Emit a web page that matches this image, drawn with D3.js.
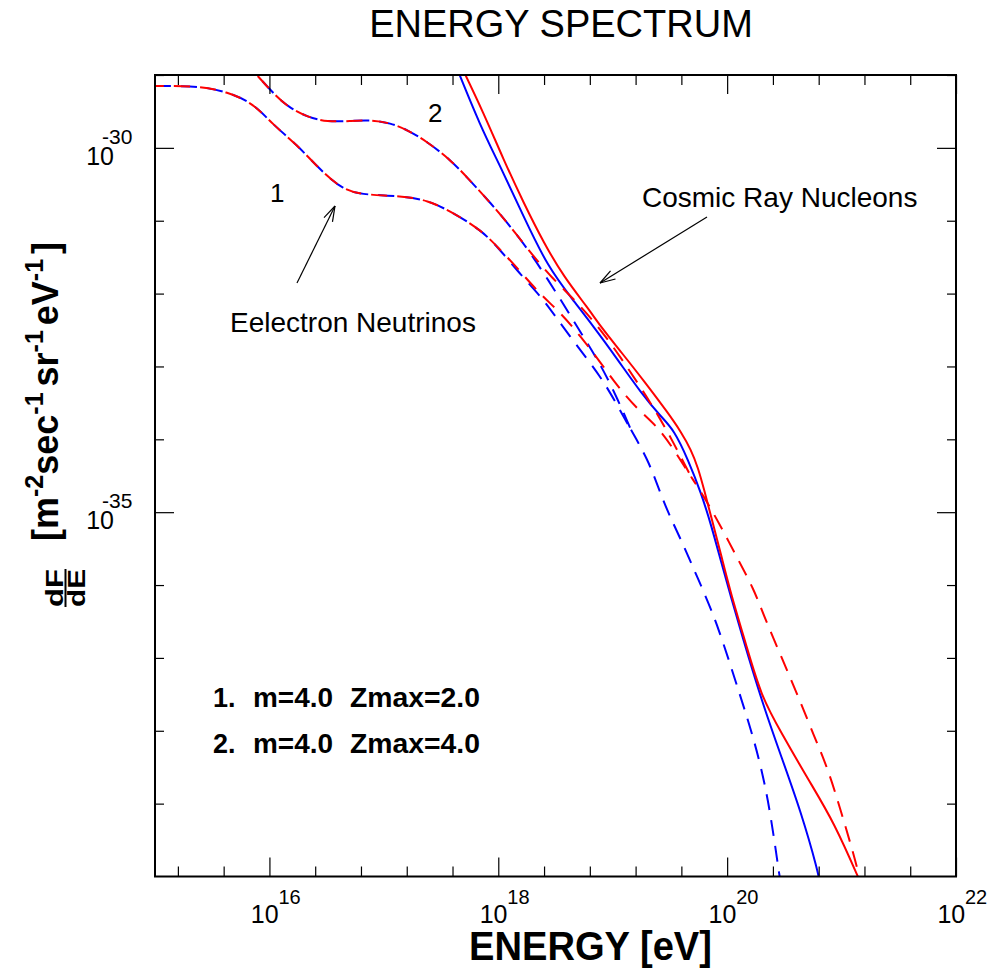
<!DOCTYPE html>
<html><head><meta charset="utf-8">
<script src="https://cdn.jsdelivr.net/npm/d3@7"></script>
<style>
body{margin:0;background:#fff}
svg{font-family:"Liberation Sans",Arial,Helvetica,sans-serif}
</style>
</head><body>
<svg id="chart" width="995" height="969"></svg>
<script>
// ---------- DATA (log10 values) ----------
const xDomainExp = [15, 22];
const yDomainExp = [-40, -29];
const xMajorTicks = [16, 18, 20, 22];
const xMinorTicks = [15.2, 15.6, 16.4, 16.8, 17.2, 17.6, 18.4, 18.8, 19.2, 19.6, 20.4, 20.8, 21.2, 21.6];
const yMajorTicks = [-30, -35];
const yMinorTicks = [-29, -31, -32, -33, -34, -36, -37, -38, -39];
const xTickLabels = ["16", "18", "20", "22"];
const yTickLabels = ["-30", "-35"];

// Electron neutrinos, curve 1 (m=4.0, Zmax=2.0), low-energy part (both models)
const nu1LowLogE = [15.00, 15.394, 15.630, 15.858, 16.033, 16.243, 16.419, 16.646, 16.856, 17.145, 17.382, 17.609, 17.846, 17.995];
const nu1LowLogF = [-29.151, -29.151, -29.233, -29.384, -29.686, -29.960, -30.262, -30.591, -30.646, -30.660, -30.715, -30.893, -31.126, -31.359];
// Electron neutrinos, curve 2 (m=4.0, Zmax=4.0), low-energy part (both models)
const nu2LowLogE = [15.788, 16.068, 16.182, 16.331, 16.506, 16.708, 16.883, 17.058, 17.207, 17.382, 17.583, 17.732, 17.933, 18.109, 18.284];
const nu2LowLogF = [-28.82, -29.316, -29.453, -29.576, -29.645, -29.631, -29.617, -29.658, -29.754, -29.919, -30.166, -30.413, -30.756, -31.085, -31.442];

// blue model: branches until they merge, then common tail
const nu1BlueMidLogE = [18.196, 18.398, 18.520, 18.695, 18.897, 19.028, 19.160];
const nu1BlueMidLogF = [-31.743, -32.086, -32.361, -32.731, -33.143, -33.499, -33.870];
const nu2BlueMidLogE = [18.547, 18.722, 18.897, 19.046, 19.160];
const nu2BlueMidLogF = [-32.086, -32.539, -32.978, -33.458, -33.870];
const blueTailLogE = [19.160, 19.308, 19.396, 19.484, 19.597, 19.711, 19.799, 19.922, 20.097, 20.237, 20.359, 20.456, 20.47];
const blueTailLogF = [-33.870, -34.281, -34.651, -35.008, -35.378, -35.790, -36.105, -36.572, -37.436, -38.122, -38.904, -39.987, -40.1];

// red model
const nu1RedMidLogE = [18.196, 18.371, 18.547, 18.722, 18.897, 19.045, 19.221, 19.396, 19.536, 19.685];
const nu1RedMidLogF = [-31.702, -32.018, -32.265, -32.594, -32.951, -33.280, -33.595, -33.829, -34.144, -34.514];
const nu2RedMidLogE = [18.459, 18.695, 18.897, 19.072, 19.247, 19.422, 19.554, 19.685];
const nu2RedMidLogF = [-31.771, -32.127, -32.498, -32.882, -33.293, -33.732, -34.116, -34.514];
const redTailLogE = [19.685, 19.799, 19.947, 20.096, 20.236, 20.324, 20.473, 20.622, 20.762, 20.884, 20.998, 21.112, 21.17];
const redTailLogF = [-34.514, -34.789, -35.200, -35.653, -36.064, -36.435, -36.984, -37.532, -38.081, -38.534, -39.123, -39.727, -40.1];

// Cosmic ray nucleons
const crBlueLogE = [17.627, 17.846, 18.021, 18.222, 18.433, 18.651, 18.835, 19.045, 19.247, 19.422, 19.536, 19.659, 19.772, 19.860, 19.947, 20.035, 20.123, 20.298, 20.473, 20.648, 20.797, 20.81];
const crBlueLogF = [-28.863, -29.713, -30.262, -30.948, -31.634, -32.086, -32.457, -32.909, -33.362, -33.691, -33.870, -34.281, -34.734, -35.173, -35.680, -36.174, -36.654, -37.573, -38.355, -39.123, -39.947, -40.1];
const crRedLogE = [17.671, 17.872, 18.047, 18.222, 18.398, 18.573, 18.783, 18.897, 19.072, 19.273, 19.483, 19.597, 19.685, 19.746, 19.799, 19.860, 19.947, 20.035, 20.166, 20.298, 20.473, 20.709, 20.937, 21.17];
const crRedLogF = [-28.863, -29.521, -30.166, -30.756, -31.305, -31.771, -32.196, -32.457, -32.799, -33.198, -33.637, -33.898, -34.144, -34.391, -34.692, -35.063, -35.584, -36.133, -36.819, -37.532, -38.026, -38.671, -39.261, -40.1];

// ---------- SCALES ----------
const svg = d3.select("#chart");
const L = 155, R = 956, T = 75, B = 876.5;
const p = e => Math.pow(10, e);
const x = d3.scaleLog().domain(xDomainExp.map(p)).range([L, R]);
const y = d3.scaleLog().domain(yDomainExp.map(p)).range([B, T]);

function zipLog(es, fs) { return es.map((e, i) => [p(e), p(fs[i])]); }

const DASH = "16,10";
const BLUE = "#0000ff", RED = "#ff0000";
const series = [
  {pts: zipLog(nu1LowLogE.concat(nu1BlueMidLogE), nu1LowLogF.concat(nu1BlueMidLogF)), color: BLUE, dash: DASH, off: 0},
  {pts: zipLog(nu2LowLogE.concat(nu2BlueMidLogE), nu2LowLogF.concat(nu2BlueMidLogF)), color: BLUE, dash: DASH, off: 0},
  {pts: zipLog(blueTailLogE, blueTailLogF), color: BLUE, dash: DASH, off: 0},
  {pts: zipLog(crBlueLogE, crBlueLogF), color: BLUE, dash: null},
  {pts: zipLog(nu1LowLogE.concat(nu1RedMidLogE), nu1LowLogF.concat(nu1RedMidLogF)), color: RED, dash: DASH, off: 7},
  {pts: zipLog(nu2LowLogE.concat(nu2RedMidLogE), nu2LowLogF.concat(nu2RedMidLogF)), color: RED, dash: DASH, off: 7},
  {pts: zipLog(redTailLogE, redTailLogF), color: RED, dash: DASH, off: 7},
  {pts: zipLog(crRedLogE, crRedLogF), color: RED, dash: null}
];

svg.append("defs").append("clipPath").attr("id", "clip")
  .append("rect").attr("x", L).attr("y", T).attr("width", R - L).attr("height", B - T);

const line = d3.line().x(d => x(d[0])).y(d => y(d[1])).curve(d3.curveBasis);
const g = svg.append("g").attr("clip-path", "url(#clip)");
series.forEach(s => {
  g.append("path").attr("d", line(s.pts)).attr("fill", "none")
    .attr("stroke", s.color).attr("stroke-width", 2)
    .attr("stroke-dasharray", s.dash).attr("stroke-dashoffset", s.off || 0);
});

// ---------- AXES ----------
function addAxis(axisFn, scale, vals, size, transform) {
  svg.append("g").attr("transform", transform)
    .call(axisFn(scale).tickValues(vals.map(p)).tickSize(size).tickFormat(""))
    .call(a => a.select(".domain").remove())
    .call(a => a.selectAll("line").attr("stroke", "#000").attr("stroke-width", 1.2));
}
addAxis(d3.axisTop, x, xMajorTicks, 19, `translate(0,${B})`);
addAxis(d3.axisTop, x, xMinorTicks, 10, `translate(0,${B})`);
addAxis(d3.axisBottom, x, xMajorTicks, 19, `translate(0,${T})`);
addAxis(d3.axisBottom, x, xMinorTicks, 10, `translate(0,${T})`);
addAxis(d3.axisRight, y, yMajorTicks, 19, `translate(${L},0)`);
addAxis(d3.axisRight, y, yMinorTicks, 9, `translate(${L},0)`);
addAxis(d3.axisLeft, y, yMajorTicks, 19, `translate(${R},0)`);
addAxis(d3.axisLeft, y, yMinorTicks, 9, `translate(${R},0)`);

svg.append("rect").attr("x", L).attr("y", T).attr("width", R - L).attr("height", B - T)
  .attr("fill", "none").attr("stroke", "#000").attr("stroke-width", 2);

// tick labels
xMajorTicks.forEach((e, i) => {
  const xp = x(p(e));
  svg.append("text").attr("x", xp - 18.6).attr("y", 923).attr("font-size", 25).text("10");
  svg.append("text").attr("x", xp + 9).attr("y", 904).attr("font-size", 20).text(xTickLabels[i]);
});
yMajorTicks.forEach((e, i) => {
  const yp = y(p(e));
  svg.append("text").attr("x", 114).attr("y", yp + 17).attr("font-size", 25).attr("text-anchor", "end").text("10");
  svg.append("text").attr("x", 102).attr("y", yp - 4).attr("font-size", 21).text(yTickLabels[i]);
});

// title
svg.append("text").attr("x", 561).attr("y", 37).attr("text-anchor", "middle").attr("font-size", 38).text("ENERGY SPECTRUM");

// x axis title
svg.append("text").attr("x", 469).attr("y", 960).attr("font-size", 41).attr("font-weight", "bold")
  .attr("textLength", 243).attr("lengthAdjust", "spacingAndGlyphs").text("ENERGY [eV]");

// y axis title
const yt = svg.append("g").attr("transform", "translate(58,541) rotate(-90)");
const yText = yt.append("text").attr("font-size", 36).attr("font-weight", "bold");
yText.append("tspan").text("[m");
yText.append("tspan").attr("font-size", 25).attr("dy", -15).text("-2");
yText.append("tspan").attr("dy", 15).text("sec");
yText.append("tspan").attr("font-size", 25).attr("dy", -15).text("-1");
yText.append("tspan").attr("dy", 15).attr("dx", 6).text("sr");
yText.append("tspan").attr("font-size", 25).attr("dy", -15).text("-1");
yText.append("tspan").attr("dy", 15).attr("dx", 5).text("eV");
yText.append("tspan").attr("font-size", 25).attr("dy", -15).text("-1");
yText.append("tspan").attr("dy", 15).attr("dx", 5).text("]");

const fr = svg.append("g").attr("transform", "translate(65.5,588) rotate(-90)");
fr.append("text").attr("x", 0).attr("y", -3).attr("text-anchor", "middle").attr("font-size", 24).attr("font-weight", "bold")
  .attr("textLength", 38).attr("lengthAdjust", "spacingAndGlyphs").text("dF");
fr.append("text").attr("x", 0).attr("y", 19).attr("text-anchor", "middle").attr("font-size", 24).attr("font-weight", "bold")
  .attr("textLength", 38).attr("lengthAdjust", "spacingAndGlyphs").text("dE");
fr.append("line").attr("x1", -19).attr("x2", 19).attr("y1", 0).attr("y2", 0).attr("stroke", "#000").attr("stroke-width", 2);

// annotations
svg.append("text").attr("x", 428).attr("y", 122).attr("font-size", 26).text("2");
svg.append("text").attr("x", 270).attr("y", 202).attr("font-size", 26).text("1");
svg.append("text").attr("x", 230).attr("y", 332).attr("font-size", 28).text("Eelectron Neutrinos");
svg.append("text").attr("x", 642).attr("y", 207).attr("font-size", 28).text("Cosmic Ray Nucleons");

function arrow(x1, y1, x2, y2) {
  svg.append("line").attr("x1", x1).attr("y1", y1).attr("x2", x2).attr("y2", y2).attr("stroke", "#000").attr("stroke-width", 1.2);
  const a = Math.atan2(y1 - y2, x1 - x2), len = 16, sp = 0.3;
  [a - sp, a + sp].forEach(b => svg.append("line").attr("x1", x2).attr("y1", y2)
    .attr("x2", x2 + len * Math.cos(b)).attr("y2", y2 + len * Math.sin(b)).attr("stroke", "#000").attr("stroke-width", 1.2));
}
arrow(297, 283, 335, 206);
arrow(707, 217, 600, 283);

// legend
[["1.", "m=4.0", "Zmax=2.0", 707], ["2.", "m=4.0", "Zmax=4.0", 753]].forEach(r => {
  svg.append("text").attr("x", 213).attr("y", r[3]).attr("font-size", 27).attr("font-weight", "bold").text(r[0]);
  svg.append("text").attr("x", 253).attr("y", r[3]).attr("font-size", 27).attr("font-weight", "bold").attr("textLength", 80).attr("lengthAdjust", "spacingAndGlyphs").text(r[1]);
  svg.append("text").attr("x", 350).attr("y", r[3]).attr("font-size", 27).attr("font-weight", "bold").attr("textLength", 130).attr("lengthAdjust", "spacingAndGlyphs").text(r[2]);
});
</script>
</body></html>
